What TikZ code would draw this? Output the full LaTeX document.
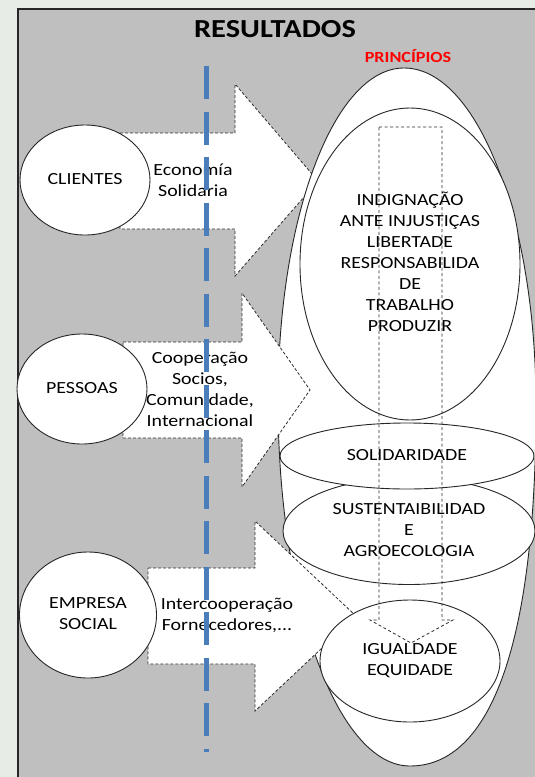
\documentclass[tikz,border=0pt]{standalone}
\usepackage{fontspec}
\setmainfont{Carlito}
\usepackage{graphicx}
\usetikzlibrary{shapes.geometric}
\definecolor{outbg}{RGB}{232,236,231}
\definecolor{panel}{RGB}{191,191,191}
\definecolor{bluedash}{RGB}{74,126,187}
\definecolor{dashgray}{RGB}{45,45,45}
\definecolor{redtitle}{RGB}{255,0,0}
\newcommand\stxt[1]{\scalebox{1.17}[1]{\begin{tabular}{@{}c@{}}#1\end{tabular}}}
\begin{document}
\begin{tikzpicture}[x=1pt,y=-1pt,
  blockarrow/.style={draw=dashgray,line width=0.8pt,dash pattern=on 3pt off 2pt,fill=white,line join=miter},
  downarrow/.style={draw=dashgray,line width=0.8pt,dash pattern=on 3pt off 2.5pt},
  egg/.style={draw=black!85,line width=0.9pt,fill=white},
  oval/.style={ellipse,draw=black!85,line width=0.9pt,fill=white,inner sep=0pt,
    font=\fontsize{17}{21}\selectfont},
  txt/.style={inner sep=0pt,font=\fontsize{17}{21}\selectfont},
  bluedashed/.style={draw=bluedash,line width=4.5pt,dash pattern=on 33pt off 12.5pt}
]
\fill[outbg] (0,0) rectangle (535,777);
\useasboundingbox (0,0) rectangle (535,777);
\clip (0,0) rectangle (535,777);
\draw[fill=panel,draw=black!85,line width=1.3pt] (18,9) rectangle (560,800);

% titles
\node[txt,font=\fontsize{26}{30}\selectfont\bfseries] (title) at (275,31) {\stxt{RESULTADOS}};
\node[txt,font=\fontsize{15.5}{18}\selectfont\bfseries,text=redtitle] (princ) at (408,59) {\stxt{PRINCÍPIOS}};

% arrow 1
\draw[blockarrow] (120,133) -- (235,133) -- (235,84) -- (318,181) -- (235,276) -- (235,229) -- (120,229) -- cycle;
% outer egg-shaped ellipse
\coordinate (eT) at (404,68);
\coordinate (eL) at (278,400);
\coordinate (eB) at (410,766);
\coordinate (eR) at (536,405);
\draw[egg] (eT) .. controls (334,68) and (278,217) .. (eL)
  .. controls (278,602) and (337,766) .. (eB)
  .. controls (492,766) and (536,640) .. (eR)
  .. controls (536,219) and (477,68) .. (eT) -- cycle;
% arrow 2
\draw[blockarrow] (123,342) -- (242,342) -- (242,293) -- (310,390) -- (242,487) -- (242,438) -- (123,438) -- cycle;
% inner ellipse
\node[oval,minimum width=220,minimum height=312] (inner) at (410,264)
  {\stxt{INDIGNAÇÃO\\ANTE INJUSTIÇAS\\LIBERTADE\\RESPONSABILIDA\\DE\\TRABALHO\\PRODUZIR}};
% sustentabilidad
\node[oval,minimum width=252,minimum height=107] (sust) at (409,531)
  {\raisebox{3pt}{\stxt{SUSTENTAIBILIDAD\\E\\AGROECOLOGIA}}};
% solidaridade
\node[oval,minimum width=254,minimum height=66] (soli) at (407,456) {\stxt{SOLIDARIDADE}};
% arrow 3
\draw[blockarrow] (148,568) -- (255,568) -- (255,521) -- (356,616) -- (255,711) -- (255,664) -- (148,664) -- cycle;
% igualdade
\node[oval,minimum width=180,minimum height=122] (igual) at (410,661) {\stxt{IGUALDADE\\EQUIDADE}};

% left ellipses
\node[oval,minimum width=130,minimum height=110] (cli) at (85,180) {\stxt{CLIENTES}};
\node[oval,minimum width=130,minimum height=110] (pes) at (82,389) {\stxt{PESSOAS}};
\node[oval,minimum width=137,minimum height=126] (emp) at (88,615) {\stxt{EMPRESA\\SOCIAL}};

% arrow texts
\node[txt] (t1) at (193,182) {\stxt{Economía\\Solidaria}};
\node[txt] (t2) at (200,391) {\stxt{Cooperação\\Socios,\\Comunidade,\\Internacional}};
\node[txt] (t3) at (227,616) {\stxt{Intercooperação\\Fornecedores,...}};

% vertical dashed arrow
\draw[downarrow] (379,127) -- (442,127) -- (442,620) -- (453,620) -- (411,643) -- (370,620) -- (379,620) -- cycle;

% blue dashed line
\coordinate (btop) at (206.5,66);
\coordinate (bbot) at (206.5,752);
\draw[bluedashed] (btop) -- (bbot);
\end{tikzpicture}
\end{document}
